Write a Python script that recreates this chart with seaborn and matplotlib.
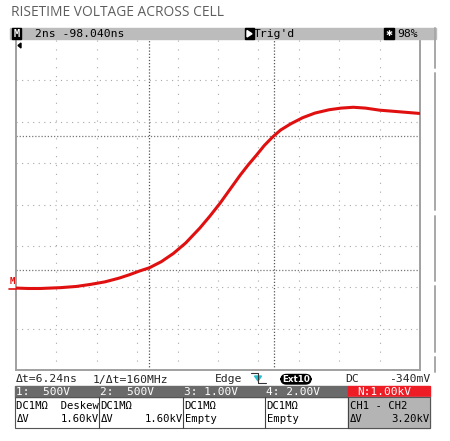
import numpy as np
import pandas as pd
import matplotlib
matplotlib.use("Agg")
import matplotlib.pyplot as plt
import seaborn as sns
from matplotlib.patches import Rectangle, FancyBboxPatch, Polygon

# ------------------------------------- data -------------------------------------
# trace: time in ns (2 ns/div), math channel N in kV (1 kV/div)
time_ns = [0.0, 0.6, 1.2, 1.7, 2.2, 3.0, 3.7, 4.4, 5.1, 5.6, 6.1, 6.6, 7.2, 7.8,
           8.4, 9.1, 9.6, 10.1, 10.6, 11.1, 11.5, 11.9, 12.3, 12.7, 13.1, 13.6,
           14.2, 14.8, 15.5, 16.1, 16.7, 17.3, 18.0, 19.0, 20.0]
volt_kv = [-0.02, -0.03, -0.03, -0.02, -0.01, 0.02, 0.07, 0.13, 0.22, 0.30, 0.39,
           0.47, 0.62, 0.82, 1.07, 1.43, 1.72, 2.03, 2.37, 2.71, 2.96, 3.19, 3.43,
           3.63, 3.80, 3.95, 4.10, 4.21, 4.29, 4.33, 4.35, 4.33, 4.28, 4.24, 4.20]

cursor_t = [6.57, 12.77]   # ns
cursor_v = [0.42, 3.65]    # kV

header_left = "2ns -98.040ns"
header_trig = "Trig'd"
header_right = "98%"
status_items = ["Δt=6.24ns", "1/Δt=160MHz", "Edge", "DC", "-340mV"]
ch_scale = ["1:  500V", "2:  500V", "3: 1.00V", "4: 2.00V", "N:1.00kV"]
ch_coupling = ["DC1MΩ  Deskew", "DC1MΩ", "DC1MΩ", "DC1MΩ", "CH1 - CH2"]
ch_delta = [("ΔV", "1.60kV"), ("ΔV", "1.60kV"), ("Empty", ""), ("Empty", ""), ("ΔV", "3.20kV")]

df = pd.DataFrame({"t": time_ns, "v": volt_kv})

# ------------------------------------- figure -------------------------------------
W, H = 450, 441
fig = plt.figure(figsize=(W / 100, H / 100), dpi=100)
sns.set_style("white")
mono = "DejaVu Sans Mono"


def fx(x):
    return x / W


def fy(y):
    return 1 - y / H


def rect(x0, y0, x1, y1, **kw):
    fig.patches.append(Rectangle((fx(x0), fy(y1)), fx(x1) - fx(x0), fy(y0) - fy(y1),
                                 transform=fig.transFigure, **kw))


def text(x, y, s, **kw):
    kw.setdefault("family", mono)
    kw.setdefault("fontsize", 7.6)
    kw.setdefault("va", "center")
    fig.text(fx(x), fy(y), s, **kw)


# title
fig.text(fx(11), fy(12), "RISETIME VOLTAGE ACROSS CELL", family="Open Sans",
         fontsize=9.9, color="#5e5e5e", va="center", ha="left")

# screen grid
ax = fig.add_axes([fx(16), fy(370), fx(420) - fx(16), fy(39) - fy(370)])
ax.set_xlim(0, 20)
ax.set_ylim(-2, 6)
ax.set_xticks(np.arange(0, 21, 2))
ax.set_yticks(np.arange(-2, 7, 1))
ax.tick_params(length=0, labelbottom=False, labelleft=False)
ax.grid(False)
for yv in np.arange(-1, 6, 1):
    ax.axhline(yv, color="#a8a8a8", lw=0.8, ls=(0, (1, 4)), zorder=0)
for xv in np.arange(2, 20, 2):
    ax.axvline(xv, color="#a8a8a8", lw=0.8, ls=(0, (1, 7)), zorder=0)
for s in ax.spines.values():
    s.set_color("#a0a0a0")
    s.set_linewidth(1.4)
ax.spines["top"].set_visible(False)

# cursors
for t in cursor_t:
    ax.axvline(t, color="#555555", lw=0.9, ls=(0, (1, 1.5)), zorder=1)
for v in cursor_v:
    ax.axhline(v, color="#777777", lw=0.9, ls=(0, (1, 1.5)), zorder=1)

sns.lineplot(data=df, x="t", y="v", ax=ax, color="#e01010", lw=2.2, zorder=3)
ax.set_xlabel("")
ax.set_ylabel("")

# trigger position marker, ground marker
fig.patches.append(Polygon([(fx(18), fy(45.5)), (fx(21), fy(43)), (fx(21), fy(48))],
                           closed=True, color="black", transform=fig.transFigure))
text(12.5, 281, "M", color="#e01010", fontsize=6.5, ha="center", weight="bold")
fig.lines.append(plt.Line2D([fx(9), fx(16)], [fy(289), fy(289)], color="#e01010",
                            lw=1.2, transform=fig.transFigure))

# right scroll line with gaps
for y0, y1 in [(28, 68), (73, 210), (216, 281), (286, 352), (357, 372)]:
    fig.lines.append(plt.Line2D([fx(435), fx(435)], [fy(y0), fy(y1)], color="#a8a8a8",
                                lw=1.4, transform=fig.transFigure))

# header bar
rect(10, 28, 436, 39, color="#bcbcbc")
rect(12, 28.5, 21, 39, color="black")
text(16.5, 33.8, "M", color="white", ha="center", fontsize=7.5, weight="bold")
text(35, 33.8, header_left, color="black", fontsize=8.2)
rect(245, 28.5, 253.5, 39, color="black")
fig.patches.append(Polygon([(fx(247), fy(30.5)), (fx(252), fy(33.8)), (fx(247), fy(37))],
                           closed=True, color="white", transform=fig.transFigure))
text(254, 33.8, header_trig, color="black", fontsize=8.2)
rect(384, 28.5, 394, 39, color="black")
text(389, 33.8, "✱", color="white", ha="center", fontsize=6, family="DejaVu Sans")
text(397, 33.8, header_right, color="black", fontsize=8.2)

# status row
yrow = 379.5
text(16, yrow, status_items[0], fontsize=8.2)
text(93, yrow, status_items[1], fontsize=8.2)
text(215, yrow, status_items[2], fontsize=8.2)
fig.lines.append(plt.Line2D([fx(251), fx(258), fx(258)], [fy(373), fy(373), fy(383)],
                            color="#333333", lw=0.8, transform=fig.transFigure))
fig.lines.append(plt.Line2D([fx(258), fx(266)], [fy(383), fy(383)],
                            color="#333333", lw=0.8, transform=fig.transFigure))
fig.patches.append(Polygon([(fx(254.5), fy(376)), (fx(261.5), fy(376)), (fx(258), fy(381))],
                           closed=True, color="#20c0d0", transform=fig.transFigure))
fig.patches.append(FancyBboxPatch((fx(281), fy(384)), fx(30), fy(0) - fy(9.5),
                                  boxstyle="round,pad=0,rounding_size=0.012",
                                  color="black", transform=fig.transFigure))
text(296, 379, "Ext10", color="white", ha="center", fontsize=6.3, weight="bold",
     family="DejaVu Sans")
text(345, yrow, status_items[3], fontsize=8.2)
text(430, yrow, status_items[4], ha="right", fontsize=8.2)

# channel table
cols = [15, 99, 183, 265, 348, 430]
rect(15, 386, 348, 397, color="#6a6a6a")
rect(348, 386, 430, 397, color="#ee1c24")
rect(348, 397, 430, 428, color="#b4b4b4")
rect(15, 397, 430, 428, fill=False, ec="#555555", lw=0.8)
for c in cols[1:-1]:
    fig.lines.append(plt.Line2D([fx(c), fx(c)], [fy(397), fy(428)], color="#444444",
                                lw=0.8, transform=fig.transFigure))
for i in range(5):
    x0, x1 = cols[i], cols[i + 1]
    pad = 9 if i == 4 else 1.5
    text(x0 + pad, 391.8, ch_scale[i], color="white", fontsize=8)
    text(x0 + 1.5, 406, ch_coupling[i], color="black")
    lab, val = ch_delta[i]
    text(x0 + 1.5, 419.5, lab, color="black")
    if val:
        text(x1 - 0.5, 419.5, val, color="black", ha="right")

fig.savefig("out.png", dpi=100)
